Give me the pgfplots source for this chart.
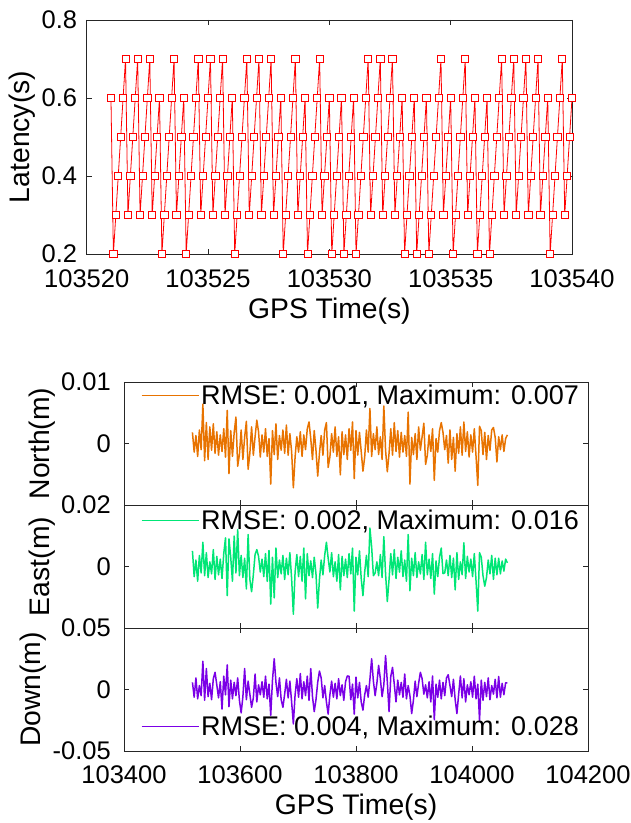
\documentclass[border=0pt]{standalone}
\usepackage{pgfplots}
\pgfplotsset{compat=1.18}
\usepackage{pgfplotstable}
\usepackage{fontspec}
\setmainfont{Liberation Sans}
\definecolor{cN}{RGB}{232,115,0}
\definecolor{cE}{RGB}{0,230,118}
\definecolor{cD}{RGB}{123,0,230}
\definecolor{axc}{RGB}{38,38,38}
\newcommand{\tickfont}{\fontsize{25.5}{30}\selectfont}
\newcommand{\labfont}{\fontsize{28.3}{33}\selectfont}
\newcommand{\legfont}{\fontsize{27}{31}\selectfont}

\pgfplotstableread{
t n e d
103518 0.0018 0.0051 0.0058
103521 -0.0014 -0.0033 -0.0063
103524 0.0013 0.0021 0.0094
103527 -0.0021 -0.0048 -0.0076
103530 0.0022 0.0036 0.0032
103533 -0.0010 -0.0021 -0.0050
103536 0.0064 0.0079 0.023
103539 -0.0028 -0.0030 -0.0088
103542 0.0034 0.0045 0.017
103545 -0.0026 -0.0036 -0.0058
103548 0.0027 0.0015 0.0050
103551 -0.0011 -0.0024 -0.0083
103554 0.0032 0.0055 0.0088
103557 -0.0016 -0.0042 0.014
103560 0.0019 0.0033 0.0038
103563 -0.0019 -0.0027 -0.0068
103566 0.0014 0.0024 0.0063
103569 -0.0013 -0.0039 -0.016
103572 0.0024 0.0042 0.0108
103575 -0.0022 0.0093 -0.0043
103578 0.0054 -0.0095 0.020
103581 -0.0049 0.0090 -0.014
103584 0.0021 0.0030 0.0076
103587 -0.0021 -0.0048 -0.0076
103590 0.0018 0.0099 0.0058
103593 0.0043 -0.0021 -0.0050
103596 -0.0037 0.012 0.0094
103599 -0.0018 -0.0030 -0.0088
103602 0.0022 0.0036 -0.019
103605 -0.0026 -0.0036 -0.0058
103608 0.0010 0.0027 0.017
103611 0.0036 -0.0073 -0.0083
103614 -0.0042 0.0104 0.0068
103617 -0.0016 -0.0042 -0.0038
103620 0.0027 -0.0082 -0.0145
103623 -0.0019 -0.0027 -0.0068
103626 0.0011 0.0039 0.0126
103629 0.0038 0.0055 -0.0101
103632 0.0019 0.0033 0.0038
103635 -0.0022 -0.0018 -0.0043
103638 0.0014 0.0024 0.0063
103641 -0.0014 -0.0033 -0.0063
103644 0.0024 0.0042 0.0108
103647 -0.0021 -0.0048 -0.0076
103650 0.0008 0.0052 0.0043
103653 -0.0066 -0.0122 -0.021
103656 0.0021 0.0030 0.0076
103659 -0.0018 -0.0102 0.025
103662 0.0032 0.0060 0.0058
103665 -0.0026 -0.0036 -0.0058
103668 0.0013 0.0021 0.0094
103671 -0.0011 -0.0024 -0.0083
103674 0.0022 0.0036 -0.0145
103677 -0.0016 -0.0042 -0.0038
103680 0.0030 0.0027 0.0083
103683 -0.0019 -0.0027 -0.0068
103686 0.0016 0.0045 0.0068
103689 -0.0013 -0.0039 -0.0101
103692 -0.0072 -0.0155 -0.028
103695 -0.0022 -0.0018 -0.0043
103698 0.0011 0.0039 0.0088
103701 -0.0014 -0.0033 -0.0063
103704 0.0019 0.0033 0.013
103707 -0.0021 -0.0048 -0.0076
103710 0.0014 0.0060 0.0063
103713 -0.0010 -0.0105 -0.0050
103716 0.0024 0.0042 0.0108
103719 0.0035 -0.0030 -0.0088
103722 0.0008 0.0018 0.017
103725 -0.0026 -0.0036 -0.0058
103728 0.0021 0.0030 -0.018
103731 -0.0011 -0.0024 -0.0083
103734 -0.0053 -0.0135 0.0058
103737 -0.0016 -0.0042 0.015
103740 0.0013 0.0021 0.0094
103743 -0.0019 -0.0027 -0.0068
103746 0.0022 0.0036 0.0032
103749 0.0034 0.0079 -0.0101
103752 -0.0039 0.0027 -0.020
103755 -0.0022 -0.0018 -0.0043
103758 0.0016 0.0045 0.0068
103761 -0.0014 -0.0033 -0.0063
103764 0.0027 0.0015 0.0050
103767 -0.0021 -0.0048 -0.0076
103770 0.0011 0.0039 0.0088
103773 -0.0051 -0.0076 -0.0050
103776 0.0019 0.0033 0.0038
103779 -0.0018 -0.0030 -0.0088
103782 0.0014 0.0024 0.0063
103785 -0.0026 -0.0036 0.011
103788 0.0024 0.0042 0.0108
103791 -0.0011 -0.0024 -0.0083
103794 0.0035 0.0060 0.0043
103797 -0.0057 -0.0145 -0.020
103800 0.0021 0.0030 0.010
103803 -0.0019 -0.0027 -0.0068
103806 0.0018 0.0051 0.0058
103809 -0.0013 -0.0039 -0.0101
103812 -0.0045 -0.0095 -0.0168
103815 -0.0022 -0.0018 -0.0043
103818 0.0022 0.0036 0.0032
103821 -0.0014 -0.0033 -0.0063
103824 0.0057 0.0125 0.0083
103827 -0.0021 0.0063 0.025
103830 0.0016 -0.0030 0.0068
103833 -0.0010 -0.0021 -0.0050
103836 0.0027 0.0015 0.0050
103839 -0.0018 -0.0030 0.0196
103842 0.0011 0.0039 0.0088
103845 -0.0026 -0.0036 -0.0058
103848 0.0061 0.0097 0.0038
103851 -0.0011 -0.0024 0.0275
103854 -0.0046 -0.0114 0.0063
103857 -0.0016 -0.0042 -0.018
103860 0.0024 0.0042 0.0108
103863 -0.0019 -0.0027 0.018
103866 0.0034 0.0055 0.0043
103869 -0.0013 -0.0039 -0.0101
103872 0.0021 0.0030 0.0076
103875 -0.0022 -0.0018 -0.0043
103878 0.0018 0.0051 0.0058
103881 -0.0014 -0.0033 -0.0063
103884 0.0013 0.0021 0.0126
103887 -0.0021 -0.0048 -0.0076
103890 0.0051 0.0104 0.0032
103893 -0.0066 -0.0079 -0.0050
103896 0.0010 0.0027 -0.0196
103899 -0.0018 -0.0030 -0.0088
103902 0.0016 0.0045 0.0068
103905 -0.0026 -0.0036 -0.0058
103908 0.0027 0.0015 0.0050
103911 -0.0011 -0.0024 0.014
103914 0.0011 0.0039 0.0088
103917 0.0033 -0.0042 -0.0038
103920 -0.0034 0.0079 0.0038
103923 -0.0019 -0.0027 -0.0068
103926 0.0014 0.0024 0.0063
103929 -0.0013 -0.0039 -0.0101
103932 0.0024 0.0042 0.011
103935 -0.0060 -0.0090 -0.0246
103938 0.0008 0.0018 0.0043
103941 -0.0014 -0.0033 -0.0063
103944 0.0021 0.0030 0.0076
103947 0.0034 0.0060 -0.0076
103950 0.0018 -0.0023 0.0058
103953 -0.0010 -0.0021 -0.0050
103956 0.0013 0.0021 0.0094
103959 -0.0032 -0.0030 0.012
103962 0.0022 0.0036 0.0032
103965 -0.0026 -0.0036 -0.0058
103968 0.0010 0.0027 0.0083
103971 -0.0045 -0.0076 -0.0083
103974 0.0016 0.0045 -0.0196
103977 -0.0016 -0.0042 -0.0038
103980 0.0027 0.0015 0.011
103983 -0.0019 -0.0027 -0.0068
103986 0.0035 0.0077 0.0088
103989 -0.0013 -0.0039 -0.0101
103992 0.0019 0.0033 0.0038
103995 -0.0022 -0.0018 -0.0043
103998 0.0014 0.0024 0.0063
104001 -0.0014 -0.0033 -0.0063
104004 0.0024 0.0042 0.0108
104007 -0.0021 -0.0048 -0.0076
104010 -0.0068 -0.0145 0.0043
104013 0.0028 0.0045 -0.025
104016 0.0021 0.0030 0.0076
104019 -0.0018 -0.0030 -0.0088
104022 0.0018 -0.0064 0.0058
104025 -0.0026 -0.0036 -0.0058
104028 0.0013 0.0021 0.0094
104031 -0.0011 -0.0024 -0.0083
104034 0.0022 0.0036 0.0032
104037 0.0026 -0.0042 -0.0038
104040 0.0010 0.0027 0.0083
104043 -0.0030 -0.0027 -0.0068
104046 0.0011 0.0027 0.0106
104049 -0.0010 -0.0024 -0.0063
104052 0.0014 0.0018 0.0050
104055 -0.0013 -0.0015 -0.0043
104058 0.0008 0.0024 0.0054
104061 0.0014 0.0012 0.0054
}\enu

\pgfplotsset{
  mybase/.style={
    scale only axis, anchor=south west,
    scaled x ticks=false, scaled y ticks=false,
    axis line style={axc, line width=0.9pt},
    every tick/.style={axc, line width=0.9pt},
    tick align=inside, major tick length=5pt,
    tick label style={font=\tickfont, text=black, inner sep=0pt},
    label style={font=\labfont, inner sep=0pt},
    clip=false,
  },
  enubase/.style={
    mybase, width=464pt, height=123pt,
    xmin=103400, xmax=104200,
    xtick={103400,103600,103800,104000,104200},
    yticklabel shift=13pt, ylabel shift=6pt,
    legend style={draw=none, fill=none, font=\legfont, anchor=east, inner sep=0pt, cells={anchor=west}},
    legend image code/.code={\draw[#1, line width=0.9pt] (-5pt,0pt) -- (52pt,0pt);},
  },
}

\begin{document}
\begin{tikzpicture}[x=1pt,y=1pt]
\useasboundingbox (0,0) rectangle (631,823);

\begin{axis}[mybase, at={(86.7pt,569pt)}, width=485.3pt, height=234pt,
  xmin=0, xmax=20, ymin=0.2, ymax=0.8,
  xtick={0,5,10,15,20}, xticklabels={103520,103525,103530,103535,103540},
  ytick={0.2,0.4,0.6,0.8}, yticklabels={0.2,0.4,0.6,0.8},
  xticklabel shift=15pt, yticklabel shift=9.4pt,
  xlabel={GPS Time(s)}, ylabel={Latency(s)},
  xlabel shift=11pt, ylabel shift=5.7pt]
\addplot[red, line width=0.8pt, mark=square*, mark size=3.6pt,
  mark options={solid, fill=white, draw=red, line width=0.8pt}] coordinates {
(1.0,0.6)(1.1,0.2)
(1.2,0.3)(1.3,0.4)(1.4,0.5)(1.5,0.6)(1.6,0.7)
(1.7,0.3)(1.8,0.4)(1.9,0.5)(2.0,0.6)(2.1,0.7)
(2.2,0.3)(2.3,0.4)(2.4,0.5)(2.5,0.6)(2.6,0.7)
(2.7,0.3)(2.8,0.4)(2.9,0.5)(3.0,0.6)(3.1,0.2)
(3.2,0.3)(3.3,0.4)(3.4,0.5)(3.5,0.6)(3.6,0.7)
(3.7,0.3)(3.8,0.4)(3.9,0.5)(4.0,0.6)(4.1,0.2)
(4.2,0.3)(4.3,0.4)(4.4,0.5)(4.5,0.6)(4.6,0.7)
(4.7,0.3)(4.8,0.4)(4.9,0.5)(5.0,0.6)(5.1,0.7)
(5.2,0.3)(5.3,0.4)(5.4,0.5)(5.5,0.6)(5.6,0.7)
(5.7,0.3)(5.8,0.4)(5.9,0.5)(6.0,0.6)(6.1,0.2)
(6.2,0.3)(6.3,0.4)(6.4,0.5)(6.5,0.6)(6.6,0.7)
(6.7,0.3)(6.8,0.4)(6.9,0.5)(7.0,0.6)(7.1,0.7)
(7.2,0.3)(7.3,0.4)(7.4,0.5)(7.5,0.6)(7.6,0.7)
(7.7,0.3)(7.8,0.4)(7.9,0.5)(8.0,0.6)(8.1,0.2)
(8.2,0.3)(8.3,0.4)(8.4,0.5)(8.5,0.6)(8.6,0.7)
(8.7,0.3)(8.8,0.4)(8.9,0.5)(9.0,0.6)(9.1,0.2)
(9.2,0.3)(9.3,0.4)(9.4,0.5)(9.5,0.6)(9.6,0.7)
(9.7,0.3)(9.8,0.4)(9.9,0.5)(10.0,0.6)(10.1,0.2)
(10.2,0.3)(10.3,0.4)(10.4,0.5)(10.5,0.6)(10.6,0.2)
(10.7,0.3)(10.8,0.4)(10.9,0.5)(11.0,0.6)(11.1,0.2)
(11.2,0.3)(11.3,0.4)(11.4,0.5)(11.5,0.6)(11.6,0.7)
(11.7,0.3)(11.8,0.4)(11.9,0.5)(12.0,0.6)(12.1,0.7)
(12.2,0.3)(12.3,0.4)(12.4,0.5)(12.5,0.6)(12.6,0.7)
(12.7,0.3)(12.8,0.4)(12.9,0.5)(13.0,0.6)(13.1,0.2)
(13.2,0.3)(13.3,0.4)(13.4,0.5)(13.5,0.6)(13.6,0.2)
(13.7,0.3)(13.8,0.4)(13.9,0.5)(14.0,0.6)(14.1,0.2)
(14.2,0.3)(14.3,0.4)(14.4,0.5)(14.5,0.6)(14.6,0.7)
(14.7,0.3)(14.8,0.4)(14.9,0.5)(15.0,0.6)(15.1,0.2)
(15.2,0.3)(15.3,0.4)(15.4,0.5)(15.5,0.6)(15.6,0.7)
(15.7,0.3)(15.8,0.4)(15.9,0.5)(16.0,0.6)(16.1,0.2)
(16.2,0.3)(16.3,0.4)(16.4,0.5)(16.5,0.6)(16.6,0.2)
(16.7,0.3)(16.8,0.4)(16.9,0.5)(17.0,0.6)(17.1,0.7)
(17.2,0.3)(17.3,0.4)(17.4,0.5)(17.5,0.6)(17.6,0.7)
(17.7,0.3)(17.8,0.4)(17.9,0.5)(18.0,0.6)(18.1,0.7)
(18.2,0.3)(18.3,0.4)(18.4,0.5)(18.5,0.6)(18.6,0.7)
(18.7,0.3)(18.8,0.4)(18.9,0.5)(19.0,0.6)(19.1,0.2)
(19.2,0.3)(19.3,0.4)(19.4,0.5)(19.5,0.6)(19.6,0.7)
(19.7,0.3)(19.8,0.4)(19.9,0.5)(20.0,0.6)
};
\end{axis}

\begin{axis}[enubase, at={(124pt,318pt)},
  ymin=-0.01, ymax=0.01, ytick={0,0.01}, yticklabels={0,0.01},
  xticklabels={}, ylabel={North(m)},
  legend style={at={(axis description cs:0.985,0.894)}}]
\addplot[cN, line width=1.5pt, line join=round] table[x=t, y=n]{\enu};
\addlegendentry{RMSE: 0.001, Maximum: 0.007}
\end{axis}

\begin{axis}[enubase, at={(124pt,195pt)},
  ymin=-0.02, ymax=0.02, ytick={0,0.02}, yticklabels={0,0.02},
  xticklabels={}, ylabel={East(m)},
  legend style={at={(axis description cs:0.985,0.874)}}]
\addplot[cE, line width=1.5pt, line join=round] table[x=t, y=e]{\enu};
\addlegendentry{RMSE: 0.002, Maximum: 0.016}
\end{axis}

\begin{axis}[enubase, at={(124pt,72pt)},
  ymin=-0.05, ymax=0.05, ytick={-0.05,0,0.05}, yticklabels={-0.05,0,0.05},
  xticklabels={103400,103600,103800,104000,104200},
  xticklabel shift=14pt, xlabel={GPS Time(s)}, xlabel shift=11pt,
  ylabel={Down(m)},
  legend style={at={(axis description cs:0.985,0.199)}}]
\addplot[cD, line width=1.5pt, line join=round] table[x=t, y=d]{\enu};
\addlegendentry{RMSE: 0.004, Maximum: 0.028}
\end{axis}
\end{tikzpicture}
\end{document}
